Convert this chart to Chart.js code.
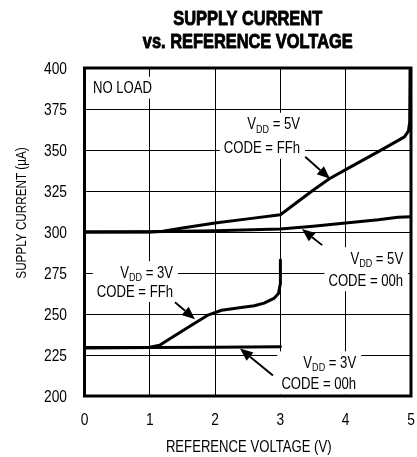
<!DOCTYPE html>
<html><head><meta charset="utf-8">
<script src="https://cdn.jsdelivr.net/npm/chart.js@4"></script>
<style>html,body{margin:0;padding:0;background:#fff}</style>
</head><body>
<canvas id="c" width="417" height="457"></canvas>
<script>
const FONT = '"Liberation Sans Narrow", "Liberation Sans", Arial, sans-serif';
const titleLines = ['SUPPLY CURRENT', 'vs. REFERENCE VOLTAGE'];
const xAxisTitle = 'REFERENCE VOLTAGE (V)';
const yAxisTitle = 'SUPPLY CURRENT (µA)';
const xTicks = [0, 1, 2, 3, 4, 5];
const yTicks = [200, 225, 250, 275, 300, 325, 350, 375, 400];

// VDD = 5V, CODE = FFh
const v5ffX = [0, 1, 1.2, 1.5, 2, 2.5, 3, 3.25, 3.5, 3.75, 4, 4.5, 4.9, 4.96, 4.98, 4.985];
const v5ffY = [300, 300, 300.5, 302.5, 305.5, 308, 310.5, 318, 325.5, 332.5, 338, 349, 358, 361.5, 367, 399];
// VDD = 5V, CODE = 00h
const v500X = [0, 1, 2, 3, 3.5, 4, 4.5, 4.8, 5];
const v500Y = [300, 300.2, 300.8, 301.8, 303.5, 305.5, 307.5, 309, 309.3];
// VDD = 3V, CODE = FFh
const v3ffX = [0, 0.9, 1.0, 1.15, 1.35, 1.65, 1.9, 2.1, 2.4, 2.6, 2.75, 2.9, 2.97, 3.0, 3.0];
const v3ffY = [229.5, 229.5, 229.8, 231, 236, 243.5, 249.5, 252.3, 254, 255, 256.6, 259.5, 262.5, 268.5, 283];
// VDD = 3V, CODE = 00h
const v300X = [0, 1, 2, 3];
const v300Y = [229.3, 229.5, 229.8, 230];

// annotation labels (data coordinates): right edge x, line centre y values, arrow start -> tip
const notes = [
  { vdd: '5V', code: 'CODE = FFh', x: 3.30, y1: 366, y2: 351.4, arrow: [3.38, 345.9, 3.76, 332.4] },
  { vdd: '5V', code: 'CODE = 00h', x: 4.88, y1: 284, y2: 270.6, arrow: [3.64, 292, 3.33, 301.8] },
  { vdd: '3V', code: 'CODE = FFh', x: 1.355, y1: 275.5, y2: 264, arrow: [1.386, 257.2, 1.692, 246.8] },
  { vdd: '3V', code: 'CODE = 00h', x: 4.16, y1: 220.5, y2: 207.6, arrow: [2.886, 212.5, 2.381, 229] }
];
const noLoad = { text: 'NO LOAD', x: 0.13, y: 388 };

const SQ = 0.82; // horizontal condensing of the sans font

function pts(xs, ys) { return xs.map((x, i) => ({ x: x, y: ys[i] })); }
function ds(xs, ys) {
  return { data: pts(xs, ys), showLine: true, borderColor: '#000', borderWidth: 3,
           pointRadius: 0, tension: 0, fill: false, borderJoinStyle: 'round', borderCapStyle: 'round' };
}
function txt(ctx, s, x, y, align, font, sq, stroke) {
  ctx.save();
  ctx.font = font;
  ctx.translate(x, y);
  ctx.scale(sq, 1);
  ctx.textAlign = align;
  ctx.textBaseline = 'alphabetic';
  ctx.fillText(s, 0, 0);
  if (stroke) { ctx.lineWidth = stroke; ctx.strokeStyle = '#000'; ctx.lineJoin = 'round'; ctx.strokeText(s, 0, 0); }
  ctx.restore();
}
function tw(ctx, s, font, sq) { ctx.save(); ctx.font = font; const w = ctx.measureText(s).width * sq; ctx.restore(); return w; }

const deco = {
  id: 'deco',
  afterDatasetsDraw(chart) {
    const ctx = chart.ctx, xs = chart.scales.x, ys = chart.scales.y;
    ctx.save();
    const main = '16px ' + FONT, sub = '11px ' + FONT;
    // NO LOAD
    {
      const px = xs.getPixelForValue(noLoad.x), py = ys.getPixelForValue(noLoad.y);
      const w = tw(ctx, noLoad.text, main, SQ);
      ctx.fillStyle = '#fff';
      ctx.fillRect(px - 2, py - 11, w + 4, 22);
      ctx.fillStyle = '#000';
      txt(ctx, noLoad.text, px, py + 5.7, 'left', main, SQ);
    }
    notes.forEach(n => {
      const rx = xs.getPixelForValue(n.x);
      const p1 = ys.getPixelForValue(n.y1), p2 = ys.getPixelForValue(n.y2);
      const wV = tw(ctx, 'V', main, SQ);
      const wRest = tw(ctx, ' = ' + n.vdd, main, SQ);
      const wSub = tw(ctx, 'DD', sub, SQ);
      const w1 = wV + wSub + wRest;
      const w2 = tw(ctx, n.code, main, SQ);
      const mw = Math.max(w1, w2);
      ctx.fillStyle = '#fff';
      ctx.fillRect(rx - mw - 4, p1 - 11, mw + 9, (p2 - p1) + 22);
      ctx.fillStyle = '#000';
      const x0 = rx - w1;
      txt(ctx, 'V', x0, p1 + 5.7, 'left', main, SQ);
      txt(ctx, 'DD', x0 + wV, p1 + 9, 'left', sub, SQ);
      txt(ctx, ' = ' + n.vdd, x0 + wV + wSub, p1 + 5.7, 'left', main, SQ);
      txt(ctx, n.code, rx - w2, p2 + 5.7, 'left', main, SQ);
      // arrow
      const ax = xs.getPixelForValue(n.arrow[0]), ay = ys.getPixelForValue(n.arrow[1]);
      const tx = xs.getPixelForValue(n.arrow[2]), ty = ys.getPixelForValue(n.arrow[3]);
      const ang = Math.atan2(ty - ay, tx - ax);
      const L = 13, H = 5.4;
      const bx = tx - L * Math.cos(ang), by = ty - L * Math.sin(ang);
      ctx.strokeStyle = '#000';
      ctx.lineWidth = 1.9;
      ctx.beginPath(); ctx.moveTo(ax, ay); ctx.lineTo(bx, by); ctx.stroke();
      ctx.beginPath();
      ctx.moveTo(tx, ty);
      ctx.lineTo(bx + H * Math.sin(ang), by - H * Math.cos(ang));
      ctx.lineTo(bx - H * Math.sin(ang), by + H * Math.cos(ang));
      ctx.closePath(); ctx.fill();
    });
    ctx.restore();
  },
  afterDraw(chart) {
    const ctx = chart.ctx, ca = chart.chartArea, xs = chart.scales.x, ys = chart.scales.y;
    ctx.save();
    ctx.strokeStyle = '#000';
    ctx.lineWidth = 3;
    ctx.strokeRect(ca.left, ca.top, ca.right - ca.left, ca.bottom - ca.top);
    ctx.fillStyle = '#000';
    const cx = (ca.left + ca.right) / 2;
    // tick labels from the library's scales
    const tickFont = '16px ' + FONT;
    xs.ticks.forEach((t, i) => {
      txt(ctx, String(t.value), xs.getPixelForTick(i), 424.5, 'center', tickFont, 0.86);
    });
    ys.ticks.forEach((t, i) => {
      txt(ctx, String(t.value), 67, ys.getPixelForTick(i) + 6, 'right', tickFont, 0.86);
    });
    // titles
    txt(ctx, titleLines[0], cx, 25, 'center', 'bold 20px ' + FONT, 0.82, 0.9);
    txt(ctx, titleLines[1], cx, 48, 'center', 'bold 20px ' + FONT, 0.82, 0.9);
    txt(ctx, xAxisTitle, cx + 1, 452, 'center', '16px ' + FONT, SQ);
    ctx.translate(26, 213);
    ctx.rotate(-Math.PI / 2);
    txt(ctx, yAxisTitle, 0, 0, 'center', '15px ' + FONT, 0.78);
    ctx.restore();
  }
};

new Chart(document.getElementById('c'), {
  type: 'scatter',
  data: { datasets: [ds(v5ffX, v5ffY), ds(v500X, v500Y), ds(v3ffX, v3ffY), ds(v300X, v300Y)] },
  options: {
    responsive: false, animation: false,
    layout: { padding: { top: 68, right: 6, bottom: 0, left: 0 } },
    plugins: { legend: { display: false }, title: { display: false }, tooltip: { enabled: false } },
    scales: {
      x: {
        type: 'linear', min: 0, max: 5,
        afterBuildTicks: s => { s.ticks = xTicks.map(v => ({ value: v })); },
        afterFit: s => { s.height = 61; },
        grid: { color: '#000', lineWidth: 1, drawTicks: false },
        border: { display: false },
        ticks: { display: false }
      },
      y: {
        type: 'linear', min: 200, max: 400,
        afterBuildTicks: s => { s.ticks = yTicks.map(v => ({ value: v })); },
        afterFit: s => { s.width = 84.5; },
        grid: { color: '#000', lineWidth: 1, drawTicks: false },
        border: { display: false },
        ticks: { display: false }
      }
    }
  },
  plugins: [deco]
});
</script>
</body></html>
